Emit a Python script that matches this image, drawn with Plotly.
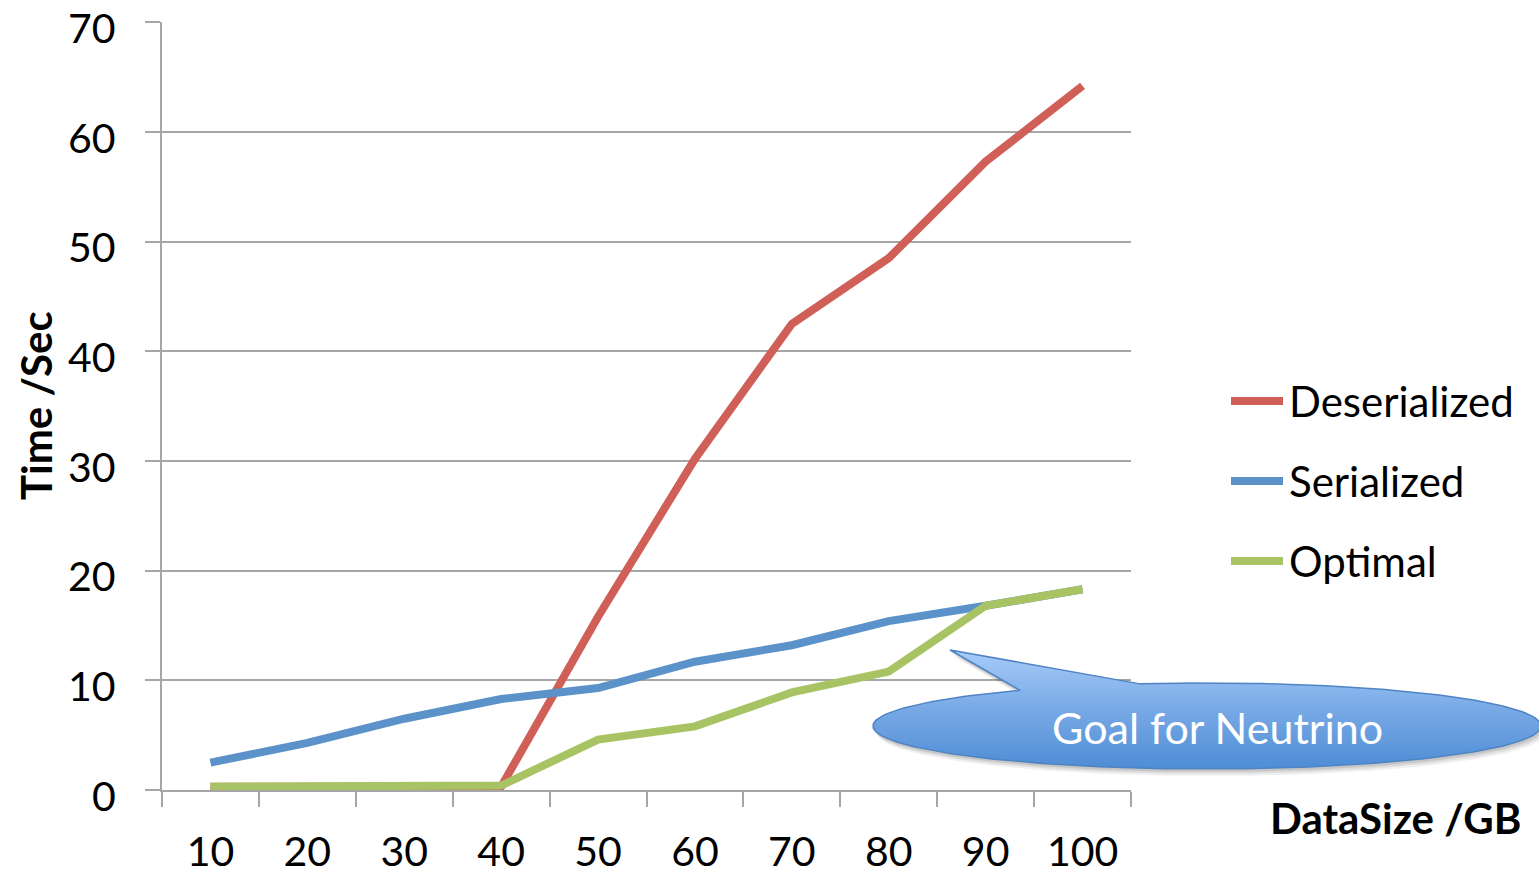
import numpy as np
import plotly.graph_objects as go

# ---- data ----
data_size = ["10", "20", "30", "40", "50", "60", "70", "80", "90", "100"]
deserialized = [0.3, 0.3, 0.3, 0.3, 15.8, 30.2, 42.5, 48.5, 57.3, 64.2]
serialized = [2.5, 4.3, 6.5, 8.3, 9.3, 11.7, 13.2, 15.4, 16.8, 18.3]
optimal = [0.3, 0.3, 0.4, 0.4, 4.6, 5.8, 8.9, 10.8, 16.8, 18.3]
y_ticks = [0, 10, 20, 30, 40, 50, 60, 70]

series_names = ["Deserialized", "Serialized", "Optimal"]
series_colors = ["#cf5f57", "#5b92c9", "#a8c364"]
callout_text = "Goal for Neutrino"

W, H = 1539, 875
FONT = "Lato, 'Open Sans', sans-serif"
GRID = "#a6a6a6"

fig = go.Figure()

for name, vals, col in zip(series_names, [deserialized, serialized, optimal], series_colors):
    fig.add_trace(go.Scatter(
        x=data_size, y=vals, mode="lines", name=name,
        line=dict(color=col, width=8), showlegend=False,
        xaxis="x", yaxis="y",
    ))

# ---- speech-bubble callout (figure pixel space on an overlay subplot) ----
cx, cy, rx, ry = 1207.0, 726.0, 334.0, 43.0
tip = (950.0, 650.0)
t1 = np.arccos((1020.0 - cx) / rx)
t2 = np.arccos((1140.0 - cx) / rx)
ts = np.linspace(t1, t2 + 2 * np.pi, 240)
bx = [tip[0]] + list(cx + rx * np.cos(ts)) + [tip[0]]
by = [tip[1]] + list(cy - ry * np.sin(ts)) + [tip[1]]

# soft shadow
for off, alpha in [(7, 0.06), (5, 0.08), (3, 0.10)]:
    fig.add_trace(go.Scatter(
        x=[v + off * 0.6 for v in bx], y=[v + off for v in by],
        mode="lines", fill="toself", fillcolor=f"rgba(0,0,0,{alpha})",
        line=dict(width=0), hoverinfo="skip", showlegend=False,
        xaxis="x2", yaxis="y2",
    ))

fig.add_trace(go.Scatter(
    x=bx, y=by, mode="lines", fill="toself",
    fillgradient=dict(type="vertical", start=770, stop=650,
                      colorscale=[[0, "#4d8cd4"], [0.5, "#78a9e6"], [1, "#a6cbf8"]]),
    line=dict(color="#4f84c4", width=1.5), hoverinfo="skip", showlegend=False,
    xaxis="x2", yaxis="y2",
))

# ---- custom legend ----
legend_y = [401, 481, 561]
for name, col, ly in zip(series_names, series_colors, legend_y):
    fig.add_trace(go.Scatter(
        x=[1231, 1283], y=[ly, ly], mode="lines",
        line=dict(color=col, width=8), hoverinfo="skip", showlegend=False,
        xaxis="x2", yaxis="y2",
    ))
    fig.add_annotation(x=1287, y=ly, xref="x2", yref="y2", text=name,
                       showarrow=False, xanchor="left", yanchor="middle",
                       font=dict(family=FONT, size=42, color="black"))

fig.add_annotation(x=1217, y=727, xref="x2", yref="y2", text=callout_text,
                   showarrow=False, xanchor="center", yanchor="middle",
                   font=dict(family=FONT, size=43, color="white"))

# y tick labels, sitting slightly below their gridlines
for v in y_ticks:
    fig.add_annotation(x=0, y=v, xref="x domain", yref="y", text=str(v),
                       showarrow=False, xanchor="right", yanchor="middle",
                       xshift=-44, yshift=-5,
                       font=dict(family=FONT, size=41, color="black"))

# axis titles
fig.add_annotation(x=36, y=406, xref="x2", yref="y2", text="<b>Time /Sec</b>",
                   showarrow=False, textangle=-90, xanchor="center", yanchor="middle",
                   font=dict(family=FONT, size=42, color="black"))
fig.add_annotation(x=1523, y=818, xref="x2", yref="y2", text="<b>DataSize /GB</b>",
                   showarrow=False, xanchor="right", yanchor="middle",
                   font=dict(family=FONT, size=42, color="black"))

fig.update_layout(
    width=W, height=H,
    margin=dict(l=0, r=0, t=0, b=0, autoexpand=False),
    paper_bgcolor="white", plot_bgcolor="rgba(0,0,0,0)",
    font=dict(family=FONT, size=41, color="black"),
    xaxis=dict(
        type="category", domain=[162 / W, 1131 / W], anchor="y",
        range=[-0.5, 9.5], tickson="boundaries", automargin=False,
        ticks="outside", ticklen=15, tickcolor=GRID, tickwidth=1.5,
        showline=True, linecolor=GRID, linewidth=1.5,
        showgrid=False, ticklabelstandoff=25, ticklabeloverflow="allow",
        tickfont=dict(family=FONT, size=41, color="black"),
    ),
    yaxis=dict(
        domain=[85 / H, 853 / H], anchor="x", automargin=False,
        range=[0, 70.03], tickvals=y_ticks, showticklabels=False,
        ticks="outside", ticklen=15, tickcolor=GRID, tickwidth=1.5,
        showline=True, linecolor=GRID, linewidth=1.5,
        showgrid=True, gridcolor=GRID, gridwidth=1.5, zeroline=False,
    ),
    xaxis2=dict(domain=[0, 1], anchor="y2", range=[0, W], visible=False,
                fixedrange=True, automargin=False),
    yaxis2=dict(domain=[0, 1], anchor="x2", range=[H, 0], visible=False,
                fixedrange=True, automargin=False),
)

fig.write_html("out.html")
